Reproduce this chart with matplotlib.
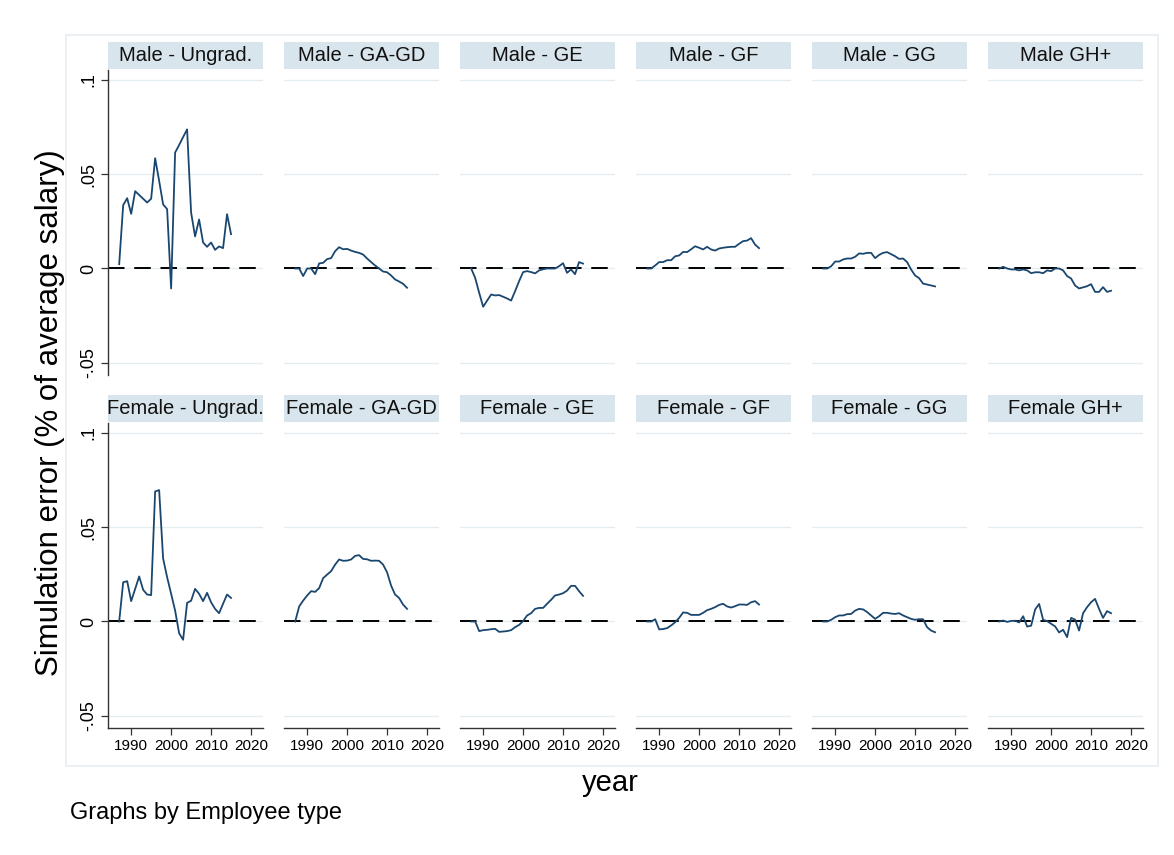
import matplotlib
matplotlib.use("Agg")
import matplotlib.pyplot as plt
from matplotlib.patches import Rectangle

plt.rcParams['font.family'] = ['Liberation Sans', 'DejaVu Sans']

years = list(range(1987, 2016))

male_ungrad = [0.0023, 0.0336, 0.0373, 0.0290, 0.0410, 0.0390, 0.0370, 0.0350, 0.0370,
               0.0585, 0.0465, 0.0340, 0.0315, -0.0106, 0.0615, 0.0655, 0.0697, 0.0738,
               0.0297, 0.0170, 0.0260, 0.0138, 0.0115, 0.0138, 0.0099, 0.0117, 0.0108,
               0.0288, 0.0182]
male_gagd = [0.0, 0.0, -0.0040, 0.0, 0.0, -0.0030, 0.0027, 0.0030, 0.0050, 0.0055,
             0.0092, 0.0113, 0.0102, 0.0104, 0.0095, 0.0088, 0.0083, 0.0074, 0.0053,
             0.0034, 0.0016, 0.0, -0.0016, -0.0020, -0.0037, -0.0058, -0.0069, -0.0081,
             -0.0102]
male_ge = [0.0, -0.0050, -0.0129, -0.0203, -0.0170, -0.0138, -0.0143, -0.0141, -0.0150,
           -0.0159, -0.0170, -0.0120, -0.0067, -0.0019, -0.0014, -0.0019, -0.0026,
           -0.0010, -0.0004, 0.0, 0.0, 0.0, 0.0012, 0.0028, -0.0023, -0.0005, -0.0030,
           0.0034, 0.0026]
male_gf = [0.0, 0.0, 0.0016, 0.0034, 0.0034, 0.0044, 0.0044, 0.0065, 0.0069, 0.0088,
           0.0087, 0.0102, 0.0118, 0.0110, 0.0101, 0.0115, 0.0101, 0.0095, 0.0106,
           0.0110, 0.0113, 0.0115, 0.0115, 0.0131, 0.0145, 0.0148, 0.0161, 0.0127,
           0.0108]
male_gg = [0.0, 0.0, 0.0012, 0.0037, 0.0037, 0.0048, 0.0053, 0.0053, 0.0062, 0.0080,
           0.0078, 0.0083, 0.0083, 0.0055, 0.0072, 0.0083, 0.0087, 0.0076, 0.0065,
           0.0051, 0.0053, 0.0034, -0.0005, -0.0037, -0.0051, -0.0080, -0.0085,
           -0.0090, -0.0095]
male_gh = [0.0, 0.0009, 0.0, -0.0005, -0.0005, -0.0010, -0.0005, -0.0010, -0.0025,
           -0.0020, -0.0020, -0.0025, -0.0010, -0.0014, 0.0, 0.0, -0.0010, -0.0040,
           -0.0053, -0.0090, -0.0106, -0.0100, -0.0094, -0.0083, -0.0124, -0.0124,
           -0.0099, -0.0124, -0.0118]

female_ungrad = [0.0, 0.0208, 0.0214, 0.0108, 0.0173, 0.0239, 0.0168, 0.0143, 0.0140,
                 0.0690, 0.0697, 0.0334, 0.0235, 0.0147, 0.0058, -0.0062, -0.0097,
                 0.0099, 0.0110, 0.0173, 0.0147, 0.0108, 0.0152, 0.0102, 0.0067, 0.0044,
                 0.0094, 0.0143, 0.0125]
female_gagd = [0.0, 0.0080, 0.0111, 0.0138, 0.0161, 0.0157, 0.0177, 0.0230, 0.0249,
               0.0267, 0.0302, 0.0329, 0.0322, 0.0323, 0.0329, 0.0348, 0.0352, 0.0332,
               0.0330, 0.0322, 0.0323, 0.0322, 0.0302, 0.0261, 0.0191, 0.0143, 0.0125,
               0.0090, 0.0067]
female_ge = [0.0, 0.0, -0.0051, -0.0046, -0.0044, -0.0041, -0.0039, -0.0055, -0.0053,
             -0.0051, -0.0046, -0.0030, -0.0018, 0.0002, 0.0032, 0.0044, 0.0067, 0.0072,
             0.0072, 0.0094, 0.0115, 0.0138, 0.0143, 0.0150, 0.0164, 0.0189, 0.0189,
             0.0161, 0.0136]
female_gf = [0.0, 0.0, 0.0012, -0.0042, -0.0040, -0.0035, -0.0021, -0.0004, 0.0019,
             0.0048, 0.0046, 0.0035, 0.0035, 0.0035, 0.0046, 0.0060, 0.0067, 0.0076,
             0.0088, 0.0094, 0.0080, 0.0074, 0.0081, 0.0090, 0.0090, 0.0088, 0.0102,
             0.0108, 0.0090]
female_gg = [0.0, 0.0, 0.0009, 0.0023, 0.0032, 0.0032, 0.0039, 0.0040, 0.0058, 0.0067,
             0.0064, 0.0050, 0.0032, 0.0014, 0.0028, 0.0046, 0.0046, 0.0042, 0.0040,
             0.0044, 0.0032, 0.0023, 0.0014, 0.0009, 0.0012, 0.0012, -0.0030, -0.0048,
             -0.0057]
female_gh = [0.0, 0.0005, -0.0002, 0.0003, 0.0004, -0.0005, 0.0028, -0.0027, -0.0022,
             0.0064, 0.0093, 0.0009, 0.0002, -0.0012, -0.0026, -0.0058, -0.0044, -0.0083,
             0.0019, 0.0010, -0.0048, 0.0044, 0.0076, 0.0102, 0.0120, 0.0067, 0.0019,
             0.0055, 0.0044]

panel_titles = ["Male - Ungrad.", "Male - GA-GD", "Male - GE", "Male - GF", "Male - GG",
                "Male GH+", "Female - Ungrad.", "Female - GA-GD", "Female - GE",
                "Female - GF", "Female - GG", "Female GH+"]
panel_series = [male_ungrad, male_gagd, male_ge, male_gf, male_gg, male_gh,
                female_ungrad, female_gagd, female_ge, female_gf, female_gg, female_gh]

y_ticks = [-0.05, 0, 0.05, 0.1]
y_tick_labels = ["-.05", "0", ".05", ".1"]
x_ticks = [1990, 2000, 2010, 2020]
x_tick_labels = ["1990", "2000", "2010", "2020"]

W, H = 1174, 855
fig = plt.figure(figsize=(W / 100, H / 100), dpi=100)
fig.patch.set_facecolor("white")

LINE = "#1A476F"
GRID = "#E4EDF0"
STRIP = "#D9E5EC"
FRAME = "#E6EEF1"

# faint outer frame of the by-graph
fig.add_artist(Rectangle((66 / W, 1 - 766 / H), (1158 - 66) / W, (766 - 35) / H,
                         transform=fig.transFigure, fill=False, edgecolor=FRAME, lw=1.2))

col_left = [108 + 176 * k for k in range(6)]
ax_w = 155
row_top = [70, 423]
ax_h = 305
strip_h = 27

for i, (title, vals) in enumerate(zip(panel_titles, panel_series)):
    r, c = divmod(i, 6)
    x0 = col_left[c]
    y0 = row_top[r]
    ax = fig.add_axes([x0 / W, 1 - (y0 + ax_h) / H, ax_w / W, ax_h / H])
    ax.set_xlim(1984.2, 2023.0)
    ax.set_ylim(-0.0565, 0.1053)
    for s in ax.spines.values():
        s.set_visible(False)
    for yt in y_ticks:
        ax.axhline(yt, color=GRID, lw=1.0, zorder=0)
    ax.axhline(0, color="black", lw=1.4, dashes=(8.5, 5.0), zorder=1)
    ax.plot(years, vals, color=LINE, lw=1.3, zorder=2)

    ax.set_yticks(y_ticks)
    ax.set_xticks(x_ticks)
    if c == 0:
        ax.spines["left"].set_visible(True)
        ax.spines["left"].set_color("#333333")
        ax.spines["left"].set_linewidth(1.0)
        ax.set_yticklabels(y_tick_labels, rotation=90, va="center", fontsize=13)
        ax.tick_params(axis="y", length=5, width=0.9, color="#333333", pad=3)
    else:
        ax.tick_params(axis="y", length=0, labelleft=False)
    if r == 1:
        ax.spines["bottom"].set_visible(True)
        ax.spines["bottom"].set_color("#333333")
        ax.spines["bottom"].set_linewidth(1.0)
        ax.set_xticklabels(x_tick_labels, fontsize=11)
        ax.tick_params(axis="x", length=5, width=0.9, color="#333333", pad=3)
    else:
        ax.tick_params(axis="x", length=0, labelbottom=False)

    # panel strip
    sy0 = y0 - 1 - strip_h
    fig.add_artist(Rectangle((x0 / W, 1 - (sy0 + strip_h) / H), ax_w / W, strip_h / H,
                             transform=fig.transFigure, facecolor=STRIP, edgecolor="none"))
    fig.text((x0 + ax_w / 2) / W, 1 - (sy0 + strip_h / 2) / H, title,
             ha="center", va="center", fontsize=14.5, color="#111111")

fig.text(50 / W, 1 - 413 / H, "Simulation error (% of average salary)",
         rotation=90, ha="center", va="center", fontsize=22.5, color="black")
fig.text(610 / W, 1 - 783 / H, "year", ha="center", va="center", fontsize=21,
         color="black")
fig.text(70 / W, 1 - 813 / H, "Graphs by Employee type", ha="left", va="center",
         fontsize=17, color="black")

fig.savefig("out.png", dpi=100, facecolor="white")
